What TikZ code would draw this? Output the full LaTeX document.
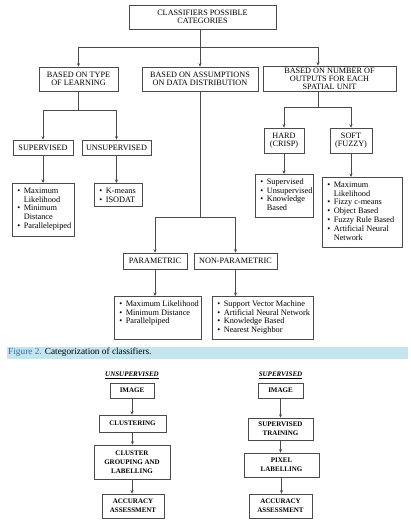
\documentclass[tikz,border=0pt]{standalone}
\usepackage{fontspec}
\setmainfont{Liberation Serif}
\usetikzlibrary{arrows.meta}
\definecolor{edge}{HTML}{4A4A4A}
\definecolor{band}{RGB}{196,228,238}
\definecolor{figblue}{RGB}{40,120,170}

% bulleted line, continuation line, and a fixed-size list box
\newcommand{\bx}[1]{\hspace*{5pt}\makebox[6.5pt][l]{\textbullet}\mbox{#1}\\}
\newcommand{\cx}[1]{\hspace*{11.5pt}\mbox{#1}\\}
\newcommand{\blist}[3]{\parbox[c][#2][t]{#1}{\fontsize{8.3}{8.8}\selectfont\rule{0pt}{10pt}#3}}

\tikzset{
  lbl/.style={draw=edge, line width=0.6pt, inner sep=0pt, align=center,
              font=\fontsize{8.2}{8.6}\selectfont},
  listbox/.style={draw=edge, line width=0.6pt, inner sep=0pt, anchor=north west},
  flowbox/.style={draw=edge, line width=0.6pt, inner sep=0pt, align=center,
              font=\bfseries\fontsize{7}{9}\selectfont},
  conn/.style={draw=edge, line width=0.6pt},
  arr/.style={conn, -{Stealth[length=3.5pt,width=3pt]}},
}

\begin{document}
\begin{tikzpicture}[x=1pt, y=-1pt]
\fill[white] (0,0) rectangle (411,524);
\useasboundingbox (0,0) rectangle (411,524);

% ---- classifier categories ----
\node[lbl, minimum width=147pt, minimum height=24pt] (top) at (202.5,17) {CLASSIFIERS POSSIBLE\\CATEGORIES};
\node[lbl, minimum width=79pt, minimum height=24pt] (typ) at (78.5,79) {BASED ON TYPE\\OF LEARNING};
\node[lbl, minimum width=116pt, minimum height=24pt] (asm) at (200,79) {BASED ON ASSUMPTIONS\\ON DATA DISTRIBUTION};
\node[lbl, minimum width=133pt, minimum height=25pt, font=\fontsize{8.2}{7.9}\selectfont] (out) at (329.5,78.5) {BASED ON NUMBER OF\\OUTPUTS FOR EACH\\SPATIAL UNIT};

\node[lbl, minimum width=60pt, minimum height=15pt] (sup) at (43,147.5) {SUPERVISED};
\node[lbl, minimum width=69pt, minimum height=15pt] (uns) at (116.5,147.5) {UNSUPERVISED};
\node[lbl, minimum width=40pt, minimum height=25pt] (hard) at (284,140.5) {HARD\\(CRISP)};
\node[lbl, minimum width=42pt, minimum height=25pt] (soft) at (351,140.5) {SOFT\\(FUZZY)};
\node[lbl, minimum width=64pt, minimum height=16pt] (par) at (155,261) {PARAMETRIC};
\node[lbl, minimum width=83pt, minimum height=16pt] (np) at (235.5,261) {NON-PARAMETRIC};

\node[listbox] (suplist) at (12,183) {\blist{62pt}{53pt}{%
  \bx{Maximum}\cx{Likelihood}\bx{Minimum}\cx{Distance}\bx{Parallelepiped}}};
\node[listbox] (unslist) at (94,183) {\blist{48pt}{23pt}{%
  \bx{K-means}\bx{ISODAT}}};
\node[listbox] (hardlist) at (255,174) {\blist{58pt}{43pt}{%
  \bx{Supervised}\bx{Unsupervised}\bx{Knowledge}\cx{Based}}};
\node[listbox] (softlist) at (322,177) {\blist{80pt}{70pt}{%
  \bx{Maximum}\cx{Likelihood}\bx{Fizzy c-means}\bx{Object Based}\bx{Fuzzy Rule Based}\bx{Artificial Neural}\cx{Network}}};
\node[listbox] (parlist) at (114,296) {\blist{87pt}{43pt}{%
  \bx{Maximum Likelihood}\bx{Minimum Distance}\bx{Parallelpiped}}};
\node[listbox] (nplist) at (212,296) {\blist{101pt}{43pt}{%
  \bx{Support Vector Machine}\bx{Artificial Neural Network}\bx{Knowledge Based}\bx{Nearest Neighbor}}};

% connectors
\coordinate (hub) at (200,47);
\draw[arr] (top.south -| asm.north) -- (asm.north);
\draw[arr] (hub) -| (typ.north);
\draw[arr] (hub) -| ([xshift=-11.5pt]out.north);

\draw[conn] (typ.south) -- ++(0,19) coordinate (j1);
\draw[arr] (j1) -| (sup.north);
\draw[arr] (j1) -| (uns.north);

\draw[conn] (asm.south) -- (200,217) coordinate (j2);
\draw[arr] (j2) -| (par.north);
\draw[arr] (j2) -| (np.north);

\draw[conn] ([xshift=-11.5pt]out.south) -- ++(0,16) coordinate (j3);
\draw[arr] (j3) -| (hard.north);
\draw[arr] (j3) -| (soft.north);

\draw[arr] (sup.south) -- (sup.south |- suplist.north);
\draw[arr] (uns.south) -- (uns.south |- unslist.north);
\draw[arr] (hard.south) -- (hard.south |- hardlist.north);
\draw[arr] (soft.south) -- (soft.south |- softlist.north);
\draw[arr] (par.south) -- (par.south |- parlist.north);
\draw[arr] (np.south) -- (np.south |- nplist.north);

% ---- caption band ----
\fill[band] (7,347) rectangle (408,358.5);
\node[anchor=west, inner sep=0pt, font=\fontsize{9.3}{10}\selectfont] (cap) at (8,352.5)
  {\textcolor{figblue}{Figure 2.} Categorization of classifiers.};

% ---- classification workflows ----
\node[inner sep=0pt, font=\bfseries\itshape\fontsize{7}{9}\selectfont] (utitle) at (132,375) {\underline{UNSUPERVISED}};
\node[flowbox, minimum width=44pt, minimum height=15pt] (uimg) at (132,390.5) {IMAGE};
\node[flowbox, minimum width=67pt, minimum height=17pt] (uclu) at (132.5,423.5) {CLUSTERING};
\node[flowbox, minimum width=76pt, minimum height=34pt] (ugrp) at (132,462) {CLUSTER\\GROUPING AND\\LABELLING};
\node[flowbox, minimum width=62pt, minimum height=24pt] (uacc) at (133,506) {ACCURACY\\ASSESSMENT};

\node[inner sep=0pt, font=\bfseries\itshape\fontsize{7}{9}\selectfont] (stitle) at (280.5,375) {\underline{SUPERVISED}};
\node[flowbox, minimum width=45pt, minimum height=15pt] (simg) at (280.5,390.5) {IMAGE};
\node[flowbox, minimum width=65pt, minimum height=22pt] (strn) at (280.5,429) {SUPERVISED\\TRAINING};
\node[flowbox, minimum width=75pt, minimum height=24pt] (slab) at (281.5,465) {PIXEL\\LABELLING};
\node[flowbox, minimum width=63pt, minimum height=24pt] (sacc) at (280.5,506) {ACCURACY\\ASSESSMENT};

\draw[arr] (uimg.south) -- (uimg.south |- uclu.north);
\draw[arr] (uclu.south) -- (uclu.south |- ugrp.north);
\draw[arr] (ugrp.south) -- (ugrp.south |- uacc.north);
\draw[arr] (simg.south) -- (simg.south |- strn.north);
\draw[arr] (strn.south) -- (strn.south |- slab.north);
\draw[arr] (slab.south) -- (slab.south |- sacc.north);
\end{tikzpicture}
\end{document}
